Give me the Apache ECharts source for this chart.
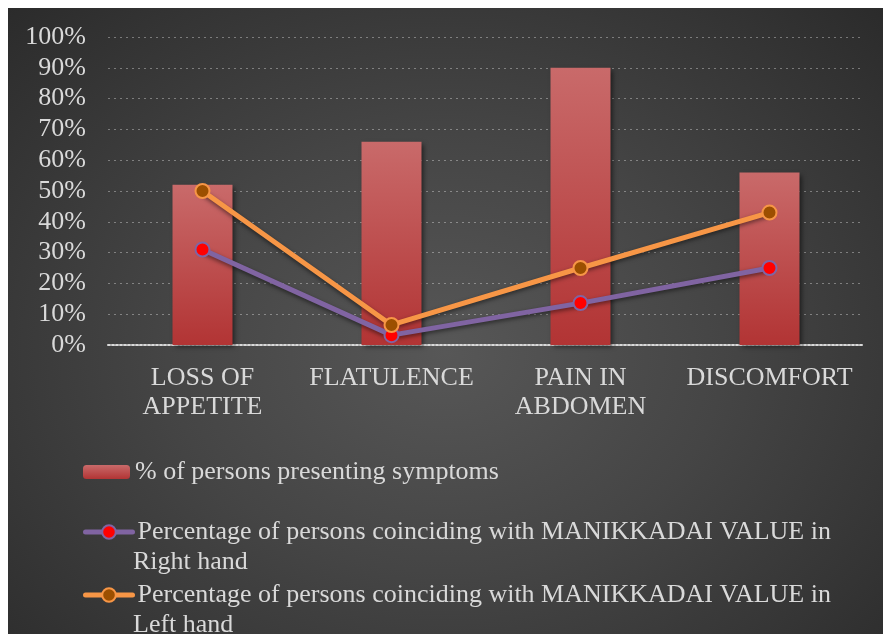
<!DOCTYPE html>
<html>
<head>
<meta charset="utf-8">
<script src="https://cdn.jsdelivr.net/npm/echarts@6/dist/echarts.min.js"></script>
<style>
  body { margin: 0; background: #ffffff; }
  #chart {
    position: absolute; left: 8px; top: 8px; width: 875px; height: 626px;
    background: radial-gradient(ellipse at 50% 55%, #575757 0%, #454545 45%, #2b2b2b 100%);
  }
</style>
</head>
<body>
<div id="chart"></div>
<script>
// categories and values (fractions of 1)
const categories = ['LOSS OF\nAPPETITE', 'FLATULENCE', 'PAIN IN\nABDOMEN', 'DISCOMFORT'];
const symptoms = [0.52, 0.66, 0.90, 0.56];
const rightHand = [0.31, 0.032, 0.136, 0.25];
const leftHand = [0.50, 0.065, 0.25, 0.43];

const barName = '% of persons presenting symptoms';
const rightName = 'Percentage of persons coinciding with MANIKKADAI VALUE in Right hand';
const leftName = 'Percentage of persons coinciding with MANIKKADAI VALUE in Left hand';

const txt = '#d9d9d9';
const font = 'Liberation Serif';
const fs = 26;

const chart = echarts.init(document.getElementById('chart'));

function legendFor(name, top) {
  return {
    data: [name],
    left: 70,
    top: top,
    orient: 'vertical',
    itemWidth: 47,
    itemHeight: name === barName ? 14 : 17,
    selectedMode: false,
    lineStyle: { width: 5, cap: 'round' },
    // second line of the long names is drawn as graphic text below
    formatter: n => n === barName ? n : 'Percentage of persons coinciding with MANIKKADAI VALUE in',
    textStyle: { color: txt, fontFamily: font, fontSize: fs, lineHeight: 30 }
  };
}

chart.setOption({
  animation: false,
  backgroundColor: 'transparent',
  grid: { left: 100, right: 19, top: 29, bottom: 289 },
  legend: [
    legendFor(barName, 444),
    legendFor(rightName, 504),
    legendFor(leftName, 567)
  ],
  graphic: [
    { type: 'text', left: 125, top: 541, style: { text: 'Right hand', fill: txt, font: fs + 'px "Liberation Serif"' } },
    { type: 'text', left: 125, top: 604, style: { text: 'Left hand', fill: txt, font: fs + 'px "Liberation Serif"' } }
  ],
  xAxis: {
    type: 'category',
    data: categories,
    axisTick: { show: false },
    axisLine: { lineStyle: { color: '#d9d9d9', type: 'dotted', width: 2 } },
    axisLabel: { color: txt, fontFamily: font, fontSize: fs, lineHeight: 29, margin: 19, interval: 0 }
  },
  yAxis: {
    type: 'value',
    min: 0,
    max: 1,
    interval: 0.1,
    axisLine: { show: false },
    axisTick: { show: false },
    axisLabel: {
      color: txt, fontFamily: font, fontSize: fs, margin: 22,
      formatter: v => Math.round(v * 100) + '%'
    },
    splitLine: { lineStyle: { color: 'rgba(255,255,255,0.35)', type: [2, 4], width: 1 } }
  },
  series: [
    {
      name: barName,
      type: 'bar',
      data: symptoms,
      barWidth: 60,
      itemStyle: {
        color: new echarts.graphic.LinearGradient(0, 0, 0, 1, [
          { offset: 0, color: '#c96a6a' },
          { offset: 1, color: '#b23434' }
        ]),
        shadowColor: 'rgba(0,0,0,0.55)',
        shadowBlur: 5,
        shadowOffsetX: 2,
        shadowOffsetY: 2
      }
    },
    {
      name: rightName,
      type: 'line',
      data: rightHand,
      symbol: 'circle',
      symbolSize: 14,
      lineStyle: { color: '#8064a2', width: 5, cap: 'round', shadowColor: 'rgba(0,0,0,0.5)', shadowBlur: 4, shadowOffsetY: 2 },
      itemStyle: { color: '#ff0000', borderColor: '#8064a2', borderWidth: 2 }
    },
    {
      name: leftName,
      type: 'line',
      data: leftHand,
      symbol: 'circle',
      symbolSize: 14,
      lineStyle: { color: '#f79646', width: 5, cap: 'round', shadowColor: 'rgba(0,0,0,0.5)', shadowBlur: 4, shadowOffsetY: 2 },
      itemStyle: { color: '#9c4f00', borderColor: '#f79646', borderWidth: 2 }
    }
  ]
});
</script>
</body>
</html>
